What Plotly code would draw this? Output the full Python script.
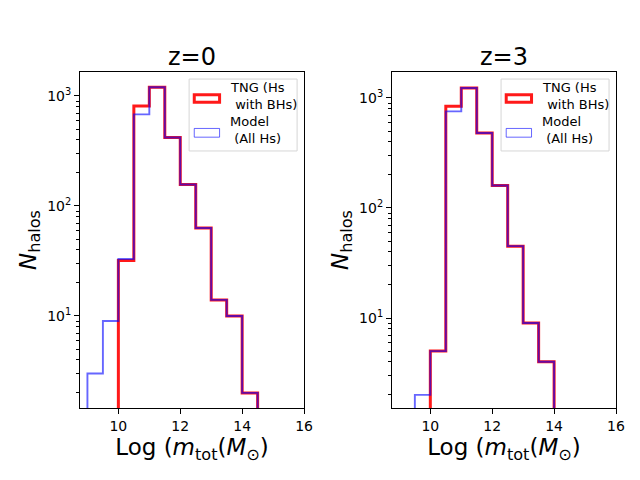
import plotly.graph_objects as go
from plotly.subplots import make_subplots

# bin edges of the mass histograms (width 0.5 dex)
EDGES = [9.0, 9.5, 10.0, 10.5, 11.0, 11.5, 12.0, 12.5, 13.0, 13.5, 14.0, 14.5, 15.0]

# counts per bin
z0_tng = [0, 0, 32, 810, 1200, 420, 157, 63, 14, 10, 2, 0]
z0_model = [3, 9, 33, 680, 1200, 420, 157, 63, 14, 10, 2, 0]
z3_tng = [0, 0, 5, 840, 1230, 480, 160, 45, 9, 4, 0, 0]
z3_model = [0, 2, 5, 755, 1230, 480, 160, 45, 9, 4, 0, 0]

TITLES = ['z=0', 'z=3']
TNG_NAME = 'TNG (Hs<br> with BHs)'
MODEL_NAME = 'Model<br> (All Hs)'

FLOOR = 1e-2  # stand-in for empty bins on the log axis
RED = 'rgba(255,0,0,0.9)'
BLUE = 'rgba(0,0,255,0.6)'
FONT = 'DejaVu Sans'


def stepXY(edges, counts):
    # outline like matplotlib histtype='step'
    x = [edges[0]] + list(edges)
    y = [FLOOR] + [c if c > 0 else FLOOR for c in counts] + [FLOOR]
    return x, y


fig = make_subplots(rows=1, cols=2, horizontal_spacing=0.164)

panels = [(z0_tng, z0_model), (z3_tng, z3_model)]
for i, (tng, model) in enumerate(panels):
    col = i + 1
    x, y = stepXY(EDGES, tng)
    fig.add_trace(go.Scatter(x=x, y=y, mode='lines',
                             line=dict(color=RED, width=3, shape='hv', simplify=False),
                             name=TNG_NAME, showlegend=False),
                  row=1, col=col)
    x, y = stepXY(EDGES, model)
    fig.add_trace(go.Scatter(x=x, y=y, mode='lines',
                             line=dict(color=BLUE, width=1.9, shape='hv', simplify=False),
                             name=MODEL_NAME, showlegend=False),
                  row=1, col=col)

    xr = 'x domain' if col == 1 else 'x2 domain'
    yr = 'y domain' if col == 1 else 'y2 domain'

    # panel title
    fig.add_annotation(xref=xr, yref=yr, x=0.5, y=1.045, text=TITLES[i],
                       showarrow=False, xanchor='center', yanchor='middle',
                       font=dict(size=24, color='black', family=FONT))

    # legend drawn by hand so the patches look like matplotlib's
    fig.add_shape(type='rect', xref=xr, yref=yr, x0=0.487, x1=0.969, y0=0.765, y1=0.979,
                  line=dict(color='#d6d6d6', width=1), fillcolor='rgba(255,255,255,0.8)')
    fig.add_shape(type='rect', xref=xr, yref=yr, x0=0.510, x1=0.623, y0=0.910, y1=0.932,
                  line=dict(color=RED, width=3), fillcolor='rgba(0,0,0,0)')
    fig.add_shape(type='rect', xref=xr, yref=yr, x0=0.510, x1=0.623, y0=0.806, y1=0.832,
                  line=dict(color=BLUE, width=1), fillcolor='rgba(0,0,0,0)')
    fig.add_annotation(xref=xr, yref=yr, x=0.661, y=0.929, text=TNG_NAME,
                       showarrow=False, xanchor='left', yanchor='middle', align='left',
                       font=dict(size=13, color='black', family=FONT))
    fig.add_annotation(xref=xr, yref=yr, x=0.661, y=0.826, text=MODEL_NAME,
                       showarrow=False, xanchor='left', yanchor='middle', align='left',
                       font=dict(size=13, color='black', family=FONT))

axis_common = dict(showgrid=False, zeroline=False, showline=True, mirror=True,
                   linecolor='black', linewidth=1, ticks='outside', ticklen=5,
                   tickcolor='black', tickfont=dict(size=14, color='black'))

minor_vals = [m * 10 ** k for k in range(0, 4) for m in range(2, 10)]

for col in (1, 2):
    fig.update_xaxes(range=[8.76, 16], tickvals=[10, 12, 14, 16],
                     title=dict(text='Log (<i>m</i><sub>tot</sub>(<i>M</i><sub>⊙</sub>)',
                                font=dict(size=23, color='black'), standoff=4),
                     row=1, col=col, **axis_common)
    fig.update_yaxes(type='log',
                     tickvals=[10, 100, 1000],
                     ticktext=['10<sup>1</sup>', '10<sup>2</sup>', '10<sup>3</sup>'],
                     minor=dict(tickvals=minor_vals, ticks='outside', ticklen=3,
                                tickcolor='black', showgrid=False),
                     title=dict(text='<i>N</i><sub>halos</sub>',
                                font=dict(size=23, color='black'), standoff=4),
                     row=1, col=col, **axis_common)

fig.update_yaxes(range=[0.1636, 3.218], row=1, col=1)
fig.update_yaxes(range=[0.182, 3.236], row=1, col=2)

# page body adds an 8px offset, so the margins are shifted back by that
fig.update_layout(
    width=640, height=480,
    margin=dict(l=72, r=32, t=64, b=80),
    paper_bgcolor='white', plot_bgcolor='white',
    font=dict(family=FONT, color='black'),
    showlegend=False,
)

fig.write_html("out.html")
